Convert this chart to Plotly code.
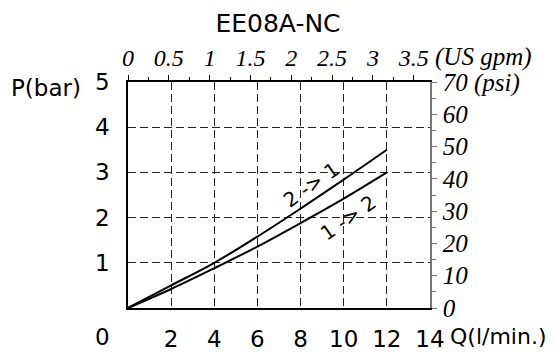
import plotly.graph_objects as go

# flow in l/min and pressure drop in bar
flow = [0, 2, 4, 6, 8, 10, 12]
p_2to1 = [0, 0.50, 1.00, 1.58, 2.20, 2.84, 3.50]
p_1to2 = [0, 0.42, 0.88, 1.36, 1.88, 2.42, 3.00]

x_ticks = [2, 4, 6, 8, 10, 12, 14]
y_ticks = [1, 2, 3, 4, 5]
gpm_ticks = [0, 0.5, 1, 1.5, 2, 2.5, 3, 3.5]
gpm_text = ["0", "0.5", "1", "1.5", "2", "2.5", "3", "3.5"]
psi_ticks = [0, 10, 20, 30, 40, 50, 60, 70]
psi_text = ["0", "10", "20", "30", "40", "50", "60", "70 (psi)"]

LMIN_PER_GPM = 3.785
SANS = "DejaVu Sans, Liberation Sans, sans-serif"
SERIF = "Liberation Serif, Times New Roman, serif"

fig = go.Figure()
for p in (p_2to1, p_1to2):
    fig.add_trace(go.Scatter(x=flow, y=p, mode="lines",
                             line=dict(color="black", width=2, shape="spline", smoothing=1),
                             showlegend=False, hoverinfo="skip"))

# dummy traces to switch on the secondary axes
fig.add_trace(go.Scatter(x=[0], y=[0], xaxis="x2", yaxis="y", mode="markers",
                         marker=dict(opacity=0), showlegend=False, hoverinfo="skip"))
fig.add_trace(go.Scatter(x=[0], y=[0], xaxis="x", yaxis="y2", mode="markers",
                         marker=dict(opacity=0), showlegend=False, hoverinfo="skip"))

grid = dict(showgrid=True, gridcolor="#222", gridwidth=1, griddash="8px,4px")

# page body has an 8px margin, so the figure is 8px smaller and shifted
fig.update_layout(
    width=548, height=348,
    margin=dict(l=120, r=126, t=74, b=48, autoexpand=False),
    paper_bgcolor="white", plot_bgcolor="white",
    font=dict(family=SANS, size=23, color="black"),
    title=dict(text="EE08A-NC", x=270 / 548, xref="container", xanchor="center",
               y=1 - 15 / 348, yref="container", yanchor="middle",
               font=dict(family=SANS, size=25, color="black")),
    xaxis=dict(range=[0, 14], tickvals=x_ticks, ticks="", showline=True, linecolor="black",
               linewidth=1.5, zeroline=False, ticklabelstandoff=10, automargin=False,
               tickfont=dict(family=SANS, size=23), **grid),
    yaxis=dict(range=[0, 5], tickvals=y_ticks, ticks="", showline=True, linecolor="black",
               linewidth=1.5, zeroline=False, ticklabelstandoff=12, automargin=False,
               tickfont=dict(family=SANS, size=23), **grid),
    xaxis2=dict(range=[0, 14 / LMIN_PER_GPM], overlaying="x", side="top", anchor="y",
                tickvals=gpm_ticks, ticktext=gpm_text, ticks="outside", ticklen=5,
                tickcolor="black", showline=True, linecolor="black", linewidth=1.5,
                showgrid=False, zeroline=False, ticklabelstandoff=0, automargin=False,
                minor=dict(dtick=0.25, ticks="outside", ticklen=3, tickcolor="black"),
                tickfont=dict(family=SERIF, size=24, style="italic")),
    yaxis2=dict(range=[0, 70], overlaying="y", side="right", anchor="x",
                tickvals=psi_ticks, ticktext=psi_text, ticks="outside", ticklen=5,
                tickcolor="#777", showline=True, linecolor="#777", linewidth=1.5,
                showgrid=False, zeroline=False, ticklabelstandoff=1, automargin=False,
                minor=dict(dtick=5, ticks="outside", ticklen=4, tickcolor="#777"),
                tickfont=dict(family=SERIF, size=25, style="italic")),
)

# axis titles and extra labels
lbl = dict(xref="paper", yref="paper", showarrow=False, xanchor="center", yanchor="middle")
fig.add_annotation(text="P(bar)", x=-0.27, y=0.973, font=dict(family=SANS, size=23), **lbl)
fig.add_annotation(text="0", x=-0.083, y=-0.128, font=dict(family=SANS, size=23), **lbl)
lbl["xanchor"] = "left"
fig.add_annotation(text="Q(l/min.)", x=1.06, y=-0.128, font=dict(family=SANS, size=22), **lbl)
fig.add_annotation(text="(US gpm)", x=1.01, y=1.111,
                   font=dict(family=SERIF, size=25, style="italic"), **lbl)

# curve labels along the lines
fig.add_annotation(text="2 -> 1", x=8.47, y=2.73, textangle=-35, showarrow=False,
                   font=dict(family=SANS, size=20))
fig.add_annotation(text="1 -> 2", x=10.19, y=2.0, textangle=-35, showarrow=False,
                   font=dict(family=SANS, size=20))

fig.write_html("out.html")
